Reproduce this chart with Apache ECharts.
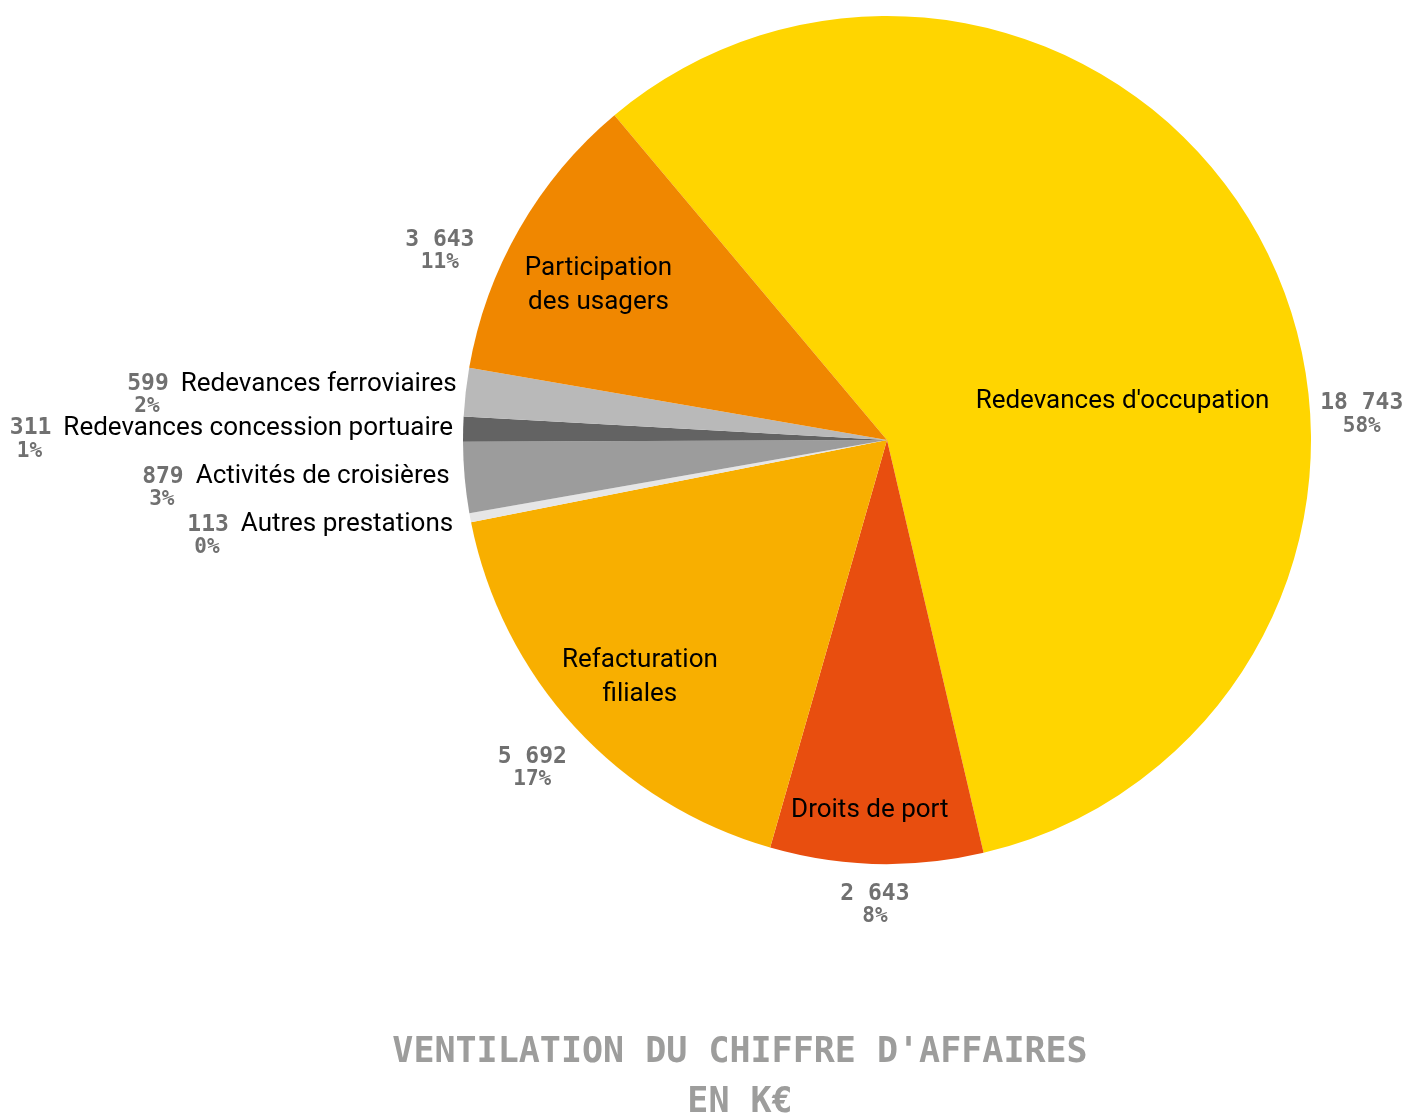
<!DOCTYPE html>
<html>
<head>
<meta charset="utf-8">
<script src="https://cdn.jsdelivr.net/npm/echarts@6/dist/echarts.min.js"></script>
<style>html,body{margin:0;padding:0;background:#fff}#c{width:1413px;height:1117px}</style>
</head>
<body>
<div id="c"></div>
<script>
const categories = ['Redevances d\'occupation', 'Droits de port', 'Refacturation\nfiliales', 'Autres prestations',
  'Activités de croisières', 'Redevances concession portuaire', 'Redevances ferroviaires', 'Participation\ndes usagers'];
const values = [18743, 2643, 5692, 113, 879, 311, 599, 3643];
const colors = ['#FFD500', '#E84E0F', '#F8AF00', '#E6E6E6', '#9C9C9C', '#636363', '#B9B9B9', '#F08700'];
const titleText = 'VENTILATION DU CHIFFRE D\'AFFAIRES\nEN K€';

// label nudges (label placement only)
const outerNudge = [[49,164],[38,41],[-3,41],[-12,18],[-10,10],[-5,10],[-4,3],[-40,22]];
const innerNudge = [[-61,110],[-9,39],[-3,13],[0,0],[0,0],[0,0],[0,0],[-1,11]];

const R = 424;
const CENTER = [887, 440];
const nameFont = 'Roboto, "Noto Sans", sans-serif';
const numFont = '"DejaVu Sans Mono", monospace';

const data = categories.map((n, i) => ({ name: n, value: values[i] }));
const fmtNum = v => String(v).replace(/\B(?=(\d{3})+(?!\d))/g, ' ');
const BIG = 5;

const chart = echarts.init(document.getElementById('c'), null, { renderer: 'canvas' });
chart.setOption({
  animation: false,
  backgroundColor: '#fff',
  color: colors,
  title: {
    text: titleText, left: 740, top: 1028, textAlign: 'center', padding: 0,
    textStyle: { fontFamily: numFont, fontWeight: 'bold', fontSize: 35, color: '#9D9D9C', lineHeight: 50 }
  },
  series: [
    {
      type: 'pie', center: CENTER, radius: [0, R], startAngle: 130, clockwise: true,
      data: data, silent: true, label: { show: false }, labelLine: { show: false },
      itemStyle: { borderWidth: 0 },
      emphasis: { disabled: true }
    },
    {
      type: 'pie', center: CENTER, radius: [R * 0.55, R], startAngle: 130, clockwise: true,
      data: data, silent: true, percentPrecision: 0, avoidLabelOverlap: false,
      itemStyle: { color: 'transparent' }, emphasis: { disabled: true },
      labelLine: { show: false },
      label: {
        show: true, position: 'inside', color: '#000', fontFamily: nameFont, fontSize: 26, lineHeight: 34,
        formatter: p => (p.percent >= BIG ? p.name : '')
      },
      labelLayout: p => ({ dx: innerNudge[p.dataIndex][0], dy: innerNudge[p.dataIndex][1] })
    },
    {
      type: 'pie', center: CENTER, radius: [0, R], startAngle: 130, clockwise: true,
      data: data, silent: true, percentPrecision: 0, avoidLabelOverlap: false,
      itemStyle: { color: 'transparent' }, emphasis: { disabled: true },
      labelLine: { show: false, length: 0, length2: 0 },
      label: {
        show: true, position: 'outside', bleedMargin: 0, distanceToLabelLine: 5,
        formatter: p => p.percent >= BIG
          ? '{vc|' + fmtNum(p.value) + '}\n{pc|' + p.percent + '%}'
          : '{v|' + fmtNum(p.value) + '}{n|' + p.name + '}\n{pl|' + p.percent + '%}',
        rich: {
          vc: { fontFamily: numFont, fontWeight: 'bold', fontSize: 23, color: '#707070', lineHeight: 24, align: 'center' },
          pc: { fontFamily: numFont, fontWeight: 'bold', fontSize: 21, color: '#707070', lineHeight: 22, align: 'center' },
          v: { fontFamily: numFont, fontWeight: 'bold', fontSize: 23, color: '#707070', lineHeight: 24 },
          n: { fontFamily: nameFont, fontSize: 26, color: '#000', lineHeight: 24, padding: [0, 0, 0, 12] },
          pl: { fontFamily: numFont, fontWeight: 'bold', fontSize: 21, color: '#707070', lineHeight: 22, align: 'left', padding: [0, 0, 0, 7] }
        }
      },
      labelLayout: p => ({ dx: outerNudge[p.dataIndex][0], dy: outerNudge[p.dataIndex][1] })
    }
  ]
});
</script>
</body>
</html>
